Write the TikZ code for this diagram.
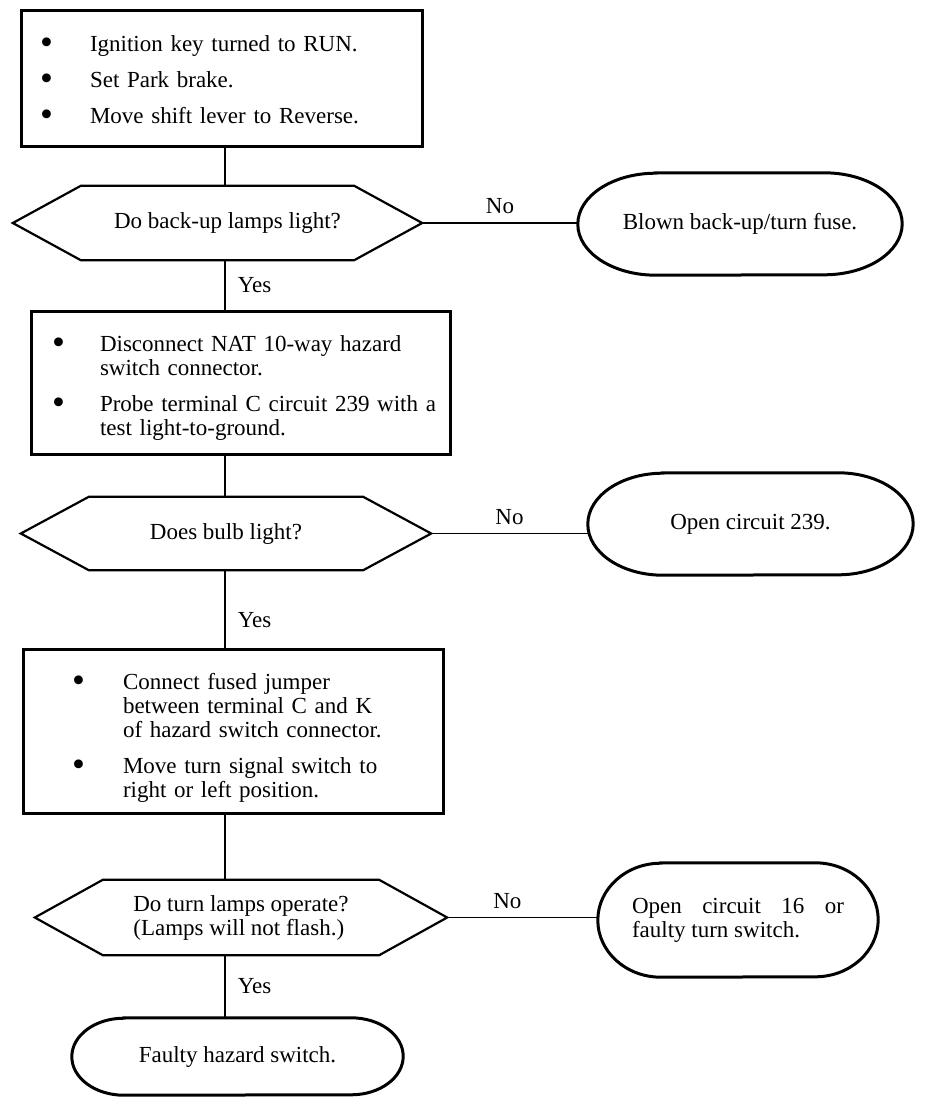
\documentclass[tikz,border=0pt]{standalone}
\usepackage{fontspec}
\setmainfont{Liberation Serif}
\usepackage{graphicx}
\usetikzlibrary{positioning}

\newcommand{\chartfont}{\fontsize{23pt}{24pt}\selectfont}
\newcommand{\bul}{\raisebox{-3pt}{\scalebox{1.6}{\textbullet}}}

\begin{document}
\begin{tikzpicture}[
    x=1pt, y=1pt,
    font=\chartfont,
    stepbox/.style={draw, line width=3pt, inner ysep=0pt, align=left},
    query/.style={inner sep=0pt, align=center},
    finish/.style={inner sep=0pt, align=center},
    link/.style={line width=1.8pt},
    hexline/.style={line width=2.2pt, line join=miter},
    capline/.style={line width=3pt},
    yes/.style={right=12pt, inner sep=0pt},
    no/.style={above=8pt, inner sep=0pt},
]

\useasboundingbox (0,0) rectangle (944,-1116);

% outline of a decision node: pointed ends, 68pt inset
\def\hexoutline#1{
    \draw[hexline] (#1.west) -- ([xshift=68pt]#1.north west) -- ([xshift=-68pt]#1.north east)
        -- (#1.east) -- ([xshift=-68pt]#1.south east) -- ([xshift=68pt]#1.south west) -- cycle;
}
% outline of an end node: elliptical caps
\def\capoutline#1#2#3{
    \draw[capline] ([xshift=#2]#1.north west) -- ([xshift=-#2]#1.north east)
        arc[start angle=90, end angle=-90, x radius=#2, y radius=#3]
        -- ([xshift=#2]#1.south west)
        arc[start angle=270, end angle=90, x radius=#2, y radius=#3] -- cycle;
}

\def\colM{225}
\coordinate (col) at (\colM,0);

% steps
\node[stepbox, inner xsep=19pt, text width=363pt, minimum height=135pt] (s1) at (221.5,-78.5) {
    \begin{tabular}{@{}p{50pt}@{}l@{}}
    \rule{0pt}{25pt}\bul & Ignition key turned to RUN.\\[12pt]
    \bul & Set Park brake.\\[12pt]
    \bul & Move shift lever to Reverse.
    \end{tabular}
};
\node[stepbox, inner xsep=21pt, text width=377pt, minimum height=143pt] (s2) at (240.5,-382.5) {
    \begin{tabular}{@{}p{48pt}@{}l@{}}
    \rule{0pt}{29pt}\bul & Disconnect NAT 10-way hazard\\
         & switch connector.\\[12pt]
    \bul & Probe terminal C circuit 239 with a\\
         & test light-to-ground.
    \end{tabular}
};
\node[stepbox, inner xsep=49pt, text width=322pt, minimum height=164pt] (s3) at (233,-731) {
    \begin{tabular}{@{}p{51pt}@{}l@{}}
    \rule{0pt}{33pt}\bul & Connect fused jumper\\
         & between terminal C and K\\
         & of hazard switch connector.\\[12pt]
    \bul & Move turn signal switch to\\
         & right or left position.
    \end{tabular}
};

% questions
\node[query, minimum width=409pt, minimum height=74pt] (q1) at (217.5,-223) {\hspace*{20pt}Do back-up lamps light?};
\node[query, minimum width=410pt, minimum height=73pt] (q2) at (226,-533.5) {Does bulb light?};
\node[query, align=left, minimum width=412pt, minimum height=75pt] (q3) at (241,-917.5) {Do turn lamps operate?\\(Lamps will not flash.)};

% results
\node[finish, minimum width=324pt, minimum height=102pt] (o1) at (740,-224) {Blown back-up/turn fuse.};
\node[finish, minimum width=325pt, minimum height=102pt] (o2) at (750.5,-524) {Open circuit 239.};
\node[finish, align=left, minimum width=280pt, minimum height=114pt] (o3) at (738,-920)
    {\makebox[212pt][s]{Open circuit 16 or}\\faulty turn switch.};
\node[finish, minimum width=331pt, minimum height=77pt] (o4) at (237.5,-1056.5) {Faulty hazard switch.};

\hexoutline{q1}
\hexoutline{q2}
\hexoutline{q3}
\capoutline{o1}{78pt}{51pt}
\capoutline{o2}{75pt}{51pt}
\capoutline{o3}{63pt}{57pt}
\capoutline{o4}{52pt}{38.5pt}

% main column
\draw[link] (s1.south -| col) -- (q1.north -| col);
\draw[link] (q1.south -| col) -- node[yes] {Yes} (s2.north -| col);
\draw[link] (s2.south -| col) -- (q2.north -| col);
\draw[link] (q2.south -| col) -- node[yes, pos=0.65] {Yes} (s3.north -| col);
\draw[link] (s3.south -| col) -- (q3.north -| col);
\draw[link] (q3.south -| col) -- node[yes] {Yes} (o4.north -| col);

% no branches
\draw[link] (q1.east) -- node[no] {No} (o1.west |- q1.east);
\draw[link] (q2.east) -- node[no] {No} (o2.west |- q2.east);
\draw[link] (q3.east) -- node[no, pos=0.4] {No} (o3.west |- q3.east);

\end{tikzpicture}
\end{document}
